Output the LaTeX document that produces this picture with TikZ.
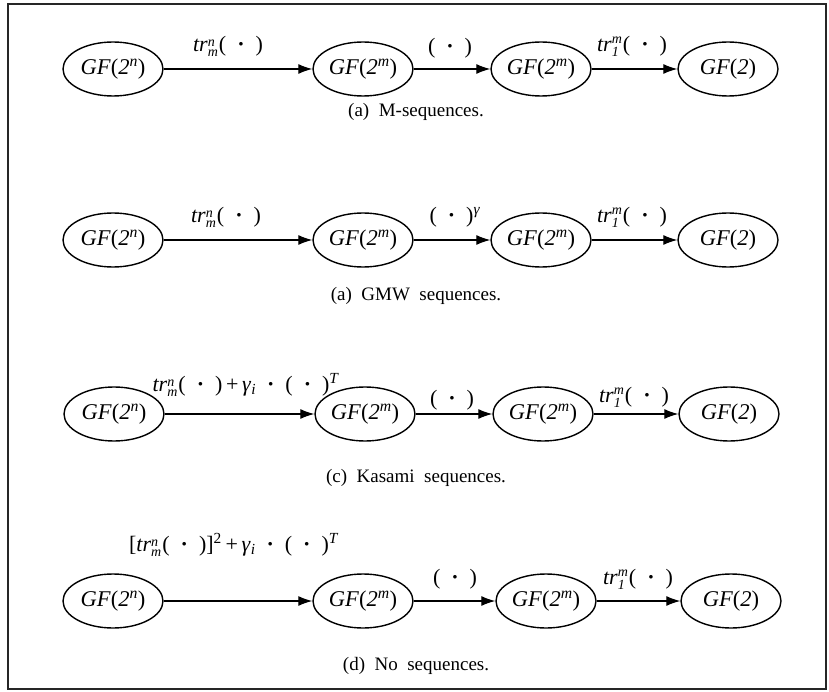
\documentclass[tikz,border=0pt]{standalone}
\usepackage{fontspec}
\setmainfont{Liberation Serif}
\usetikzlibrary{shapes.geometric,arrows.meta}
\tikzset{
  gf/.style={ellipse,draw,line width=1.4pt,minimum width=100pt,minimum height=54pt,inner sep=0pt,font=\fontsize{22.5}{26}\selectfont},
  arr/.style={-{Latex[length=14pt,width=10pt]},line width=1.2pt},
  lbl/.style={inner sep=1pt,font=\fontsize{22}{26}\selectfont},
  captxt/.style={inner sep=1pt,font=\fontsize{19}{22}\selectfont}
}
\newcommand{\gfx}[1]{\makebox[40pt]{\textit{GF}(\textit{2}\textsuperscript{\textit{#1}})}}
\newcommand{\gftwo}{\makebox[40pt]{\textit{GF}(\textit{2})}}
\newcommand{\sps}[2]{\raisebox{-5pt}{\fontsize{14}{14.5}\selectfont\shortstack[l]{\textit{#1}\\\textit{#2}}}\kern1pt}
\newcommand{\dt}{(\enspace\textbf{·}\enspace)}
\newcommand{\trmn}{\textit{tr}\sps{n}{m}\dt}
\newcommand{\trom}{\textit{tr}\sps{m}{1}\dt}
\begin{document}
\begin{tikzpicture}[x=1pt,y=-1pt]
\useasboundingbox (0,0) rectangle (829,692);
\draw[line width=1.2pt,black!85] (8,4) rectangle (826,689);
% row 1
\node[gf] (a1) at (113,69) {\gfx{n}};
\node[gf] (a2) at (363,69) {\gfx{m}};
\node[gf] (a3) at (541,69) {\gfx{m}};
\node[gf] (a4) at (728,69) {\gftwo};
\draw[arr] (a1) -- (a2);
\draw[arr] (a2) -- (a3);
\draw[arr] (a3) -- (a4);
\node[lbl] (la1) at (228,46) {\trmn};
\node[lbl] (la2) at (450,48) {\dt};
\node[lbl] (la3) at (632,46) {\trom};
\node[captxt] (ca) at (416,112) {(a)\enspace M-sequences.};
% row 2
\node[gf] (b1) at (113,240) {\gfx{n}};
\node[gf] (b2) at (363,240) {\gfx{m}};
\node[gf] (b3) at (541,240) {\gfx{m}};
\node[gf] (b4) at (728,240) {\gftwo};
\draw[arr] (b1) -- (b2);
\draw[arr] (b2) -- (b3);
\draw[arr] (b3) -- (b4);
\node[lbl] (lb1) at (226,217) {\trmn};
\node[lbl] (lb2) at (455,217) {\dt\textsuperscript{\textit{γ}}};
\node[lbl] (lb3) at (632,217) {\trom};
\node[captxt] (cb) at (416,296) {(a)\enspace GMW\enspace sequences.};
% row 3
\node[gf] (c1) at (114,414) {\gfx{n}};
\node[gf] (c2) at (365,414) {\gfx{m}};
\node[gf] (c3) at (543,414) {\gfx{m}};
\node[gf] (c4) at (729,414) {\gftwo};
\draw[arr] (c1) -- (c2);
\draw[arr] (c2) -- (c3);
\draw[arr] (c3) -- (c4);
\node[lbl] (lc1) at (246,385) {\trmn\,+\,\textit{γ}\textsubscript{\textit{i}}\enspace\textbf{·}\enspace\dt\textsuperscript{\textit{T}}};
\node[lbl] (lc2) at (452,400) {\dt};
\node[lbl] (lc3) at (634,397) {\trom};
\node[captxt] (cc) at (416,478) {(c)\enspace Kasami\enspace sequences.};
% row 4
\node[gf] (d1) at (113,601) {\gfx{n}};
\node[gf] (d2) at (363,601) {\gfx{m}};
\node[gf] (d3) at (546,601) {\gfx{m}};
\node[gf] (d4) at (731,601) {\gftwo};
\draw[arr] (d1) -- (d2);
\draw[arr] (d2) -- (d3);
\draw[arr] (d3) -- (d4);
\node[lbl] (ld1) at (234,545) {[\trmn]\textsuperscript{2}\,+\,\textit{γ}\textsubscript{\textit{i}}\enspace\textbf{·}\enspace\dt\textsuperscript{\textit{T}}};
\node[lbl] (ld2) at (455,579) {\dt};
\node[lbl] (ld3) at (638,579) {\trom};
\node[captxt] (cd) at (416,666) {(d)\enspace No\enspace sequences.};
\end{tikzpicture}
\end{document}
